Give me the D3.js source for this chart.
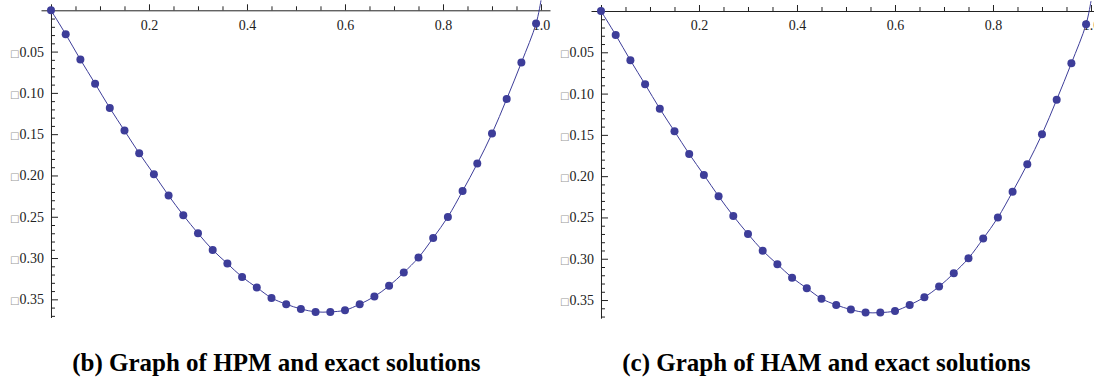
<!DOCTYPE html>
<html>
<head>
<meta charset="utf-8">
<script src="https://cdn.jsdelivr.net/npm/d3@7"></script>
<style>
  body { margin: 0; background: #fff; }
  svg { display: block; }
  .axis text { font-family: "Liberation Serif", "Times New Roman", serif; font-size: 14px; fill: #222; }
  .axis path, .axis line { stroke: #222; }
  .caption { font-family: "Liberation Serif", "Times New Roman", serif; font-weight: bold; font-size: 25px; fill: #000; }
</style>
</head>
<body>
<div class="charts"></div>
<script>
// size of the whole picture
const WIDTH = 1094;
const HEIGHT = 381;

// sample points (x) and solution values
const xValues = [0, 0.03, 0.06, 0.09, 0.12, 0.15, 0.18, 0.21, 0.24, 0.27, 0.30, 0.33,
  0.36, 0.39, 0.42, 0.45, 0.48, 0.51, 0.54, 0.57, 0.60, 0.63, 0.66, 0.69, 0.72, 0.75,
  0.78, 0.81, 0.84, 0.87, 0.90, 0.93, 0.96, 0.99];

const hpmValues = [0, -0.029, -0.0597, -0.0888, -0.1183, -0.1457, -0.1731, -0.1985,
  -0.2243, -0.2482, -0.270, -0.2902, -0.3067, -0.3229, -0.3357, -0.3483, -0.3559,
  -0.3616, -0.3652, -0.3652, -0.3632, -0.3559, -0.3466, -0.3337, -0.3176, -0.2994,
  -0.2756, -0.2502, -0.2188, -0.1856, -0.1493, -0.1074, -0.0633, -0.0161];

const hamValues = [0, -0.029, -0.0597, -0.0888, -0.1183, -0.1457, -0.1731, -0.1985,
  -0.2243, -0.2482, -0.270, -0.2902, -0.3067, -0.3229, -0.3357, -0.3483, -0.3559,
  -0.3616, -0.3652, -0.3652, -0.3632, -0.3559, -0.3466, -0.3337, -0.3176, -0.2994,
  -0.2756, -0.2502, -0.2188, -0.1856, -0.1493, -0.1074, -0.0633, -0.0161];

// exact solution, drawn as the line
const exactX = xValues.concat([1.0]);
const exactValues = hpmValues.concat([0.012]);

const xMajorTicks = [0, 0.2, 0.4, 0.6, 0.8, 1.0];
const xMinorTicks = [0.05, 0.1, 0.15, 0.25, 0.3, 0.35, 0.45, 0.5, 0.55, 0.65, 0.7, 0.75, 0.85, 0.9, 0.95];
const yMajorTicks = [-0.05, -0.10, -0.15, -0.20, -0.25, -0.30, -0.35];
const yMinorTicks = [-0.01, -0.02, -0.03, -0.04, -0.06, -0.07, -0.08, -0.09, -0.11, -0.12,
  -0.13, -0.14, -0.16, -0.17, -0.18, -0.19, -0.21, -0.22, -0.23, -0.24, -0.26, -0.27,
  -0.28, -0.29, -0.31, -0.32, -0.33, -0.34, -0.36, -0.37];

const captions = ["(b) Graph of HPM and exact solutions", "(c) Graph of HAM and exact solutions"];

const COLOR = "#3d3d99";

const SVG = d3
  .select(".charts")
  .append("svg")
  .attr("width", WIDTH)
  .attr("height", HEIGHT);

function MakePanel(left, top, values, caption) {
  const g = SVG.append("g");

  const x = d3.scaleLinear().domain([-0.0204, 1.0184]).range([left - 10, left + 499]);
  const y = d3.scaleLinear().domain([-0.372, 0]).range([top + 307.2, top]);

  // x axis: ticks point up, labels below the line
  const xAxis = g.append("g")
    .attr("class", "axis")
    .attr("transform", `translate(0,${y(0)})`)
    .call(d3.axisTop(x).tickValues(xMajorTicks).tickSizeInner(6).tickSizeOuter(0)
      .tickFormat(d => (d === 0 ? "" : d3.format(".1f")(d))));
  xAxis.selectAll("text").attr("y", 15).attr("dy", "0.32em");

  g.append("g")
    .attr("class", "axis")
    .attr("transform", `translate(0,${y(0)})`)
    .call(d3.axisTop(x).tickValues(xMinorTicks).tickSizeInner(4).tickSizeOuter(0).tickFormat(""))
    .select(".domain").remove();

  // y axis: ticks point right, labels on the left
  const yAxis = g.append("g")
    .attr("class", "axis")
    .attr("transform", `translate(${x(0)},0)`)
    .call(d3.axisRight(y).tickValues(yMajorTicks).tickSizeInner(7).tickSizeOuter(0)
      .tickFormat(d => d3.format(".2f")(Math.abs(d))));
  yAxis.selectAll("text")
    .attr("x", -7)
    .attr("text-anchor", "end")
    .each(function (d) {
      const t = d3.select(this);
      t.text("");
      t.append("tspan")
        .attr("font-family", "DejaVu Sans")
        .attr("font-size", "10px")
        .attr("fill", "#999")
        .text("\u25A1");
      t.append("tspan").text(d3.format(".2f")(Math.abs(d)));
    });

  g.append("g")
    .attr("class", "axis")
    .attr("transform", `translate(${x(0)},0)`)
    .call(d3.axisRight(y).tickValues(yMinorTicks).tickSizeInner(4).tickSizeOuter(0).tickFormat(""))
    .select(".domain").remove();

  // exact solution line
  const line = d3.line()
    .x((d, i) => x(exactX[i]))
    .y(d => y(d))
    .curve(d3.curveCatmullRom);

  g.append("path")
    .datum(exactValues)
    .attr("d", line)
    .attr("fill", "none")
    .attr("stroke", COLOR)
    .attr("stroke-width", 1);

  // approximate solution points
  g.selectAll("circle")
    .data(values)
    .join("circle")
    .attr("cx", (d, i) => x(xValues[i]))
    .attr("cy", d => y(d))
    .attr("r", 4)
    .attr("fill", COLOR);

  g.append("text")
    .attr("class", "caption")
    .attr("x", x(0.46))
    .attr("y", 371)
    .attr("text-anchor", "middle")
    .text(caption);
}

MakePanel(51, 10.3, hpmValues, captions[0]);
MakePanel(601, 11, hamValues, captions[1]);
</script>
</body>
</html>
